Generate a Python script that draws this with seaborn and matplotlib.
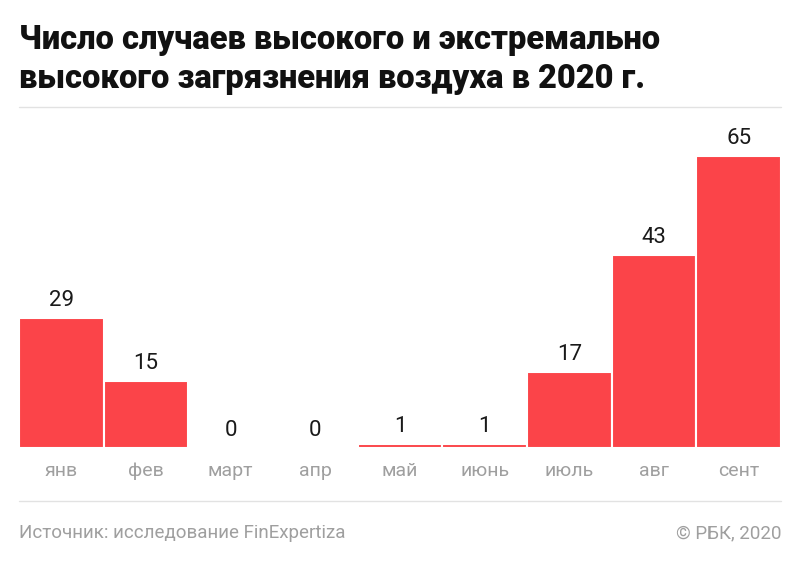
import matplotlib as mpl
import seaborn as sns
import pandas as pd
import numpy as np
plt = mpl.pyplot

months = ['янв', 'фев', 'март', 'апр', 'май', 'июнь', 'июль', 'авг', 'сент']
cases = [29, 15, 0, 0, 1, 1, 17, 43, 65]

TITLE = 'Число случаев высокого и экстремально\nвысокого загрязнения воздуха в 2020 г.'
SOURCE = 'Источник: исследование FinExpertiza'
COPY = '© РБК, 2020'

RED = '#FB4449'
GREY_TXT = '#9f9f9f'
GREY_LINE = '#e2e2e2'

sns.set_style('white')
plt.rcParams['font.family'] = ['Roboto', 'DejaVu Sans']

data = pd.DataFrame({'month': months, 'cases': cases})

fig = plt.figure(figsize=(8, 5.66), dpi=100)
H = 566.0
# axes: x 19..781 px, baseline at 448 px, top at 120 px
ax = fig.add_axes([19 / 800, (H - 448) / H, 762 / 800, 328 / H])
sns.barplot(data=data, x='month', y='cases', color=RED, width=1.0,
            edgecolor='white', linewidth=1.5, saturation=1, ax=ax)
ax.set_xlim(-0.5, 8.5)
ax.set_ylim(0, 328 / 4.492)
for c in ax.containers:
    ax.bar_label(c, padding=5, fontsize=16, color='#1a1a1a')
ax.set_xlabel('')
ax.set_ylabel('')
ax.set_yticks([])
ax.tick_params(axis='x', length=0, pad=10, labelsize=14, labelcolor=GREY_TXT)
sns.despine(ax=ax, left=True, bottom=True)

fig.text(19 / 800, 1 - 24 / H, TITLE, ha='left', va='top', fontsize=23.5,
         fontweight='heavy', color='#111111', linespacing=1.28)
fig.add_artist(mpl.lines.Line2D([19 / 800, 781 / 800], [1 - 107 / H] * 2,
                                color=GREY_LINE, lw=1))
fig.add_artist(mpl.lines.Line2D([19 / 800, 781 / 800], [1 - 501 / H] * 2,
                                color=GREY_LINE, lw=1))
fig.text(19 / 800, 1 - 533 / H, SOURCE, ha='left', va='center', fontsize=13.5,
         color=GREY_TXT)
fig.text(781 / 800, 1 - 533 / H, COPY, ha='right', va='center', fontsize=13.5,
         color=GREY_TXT)

plt.savefig('out.png', dpi=100, facecolor='white')
